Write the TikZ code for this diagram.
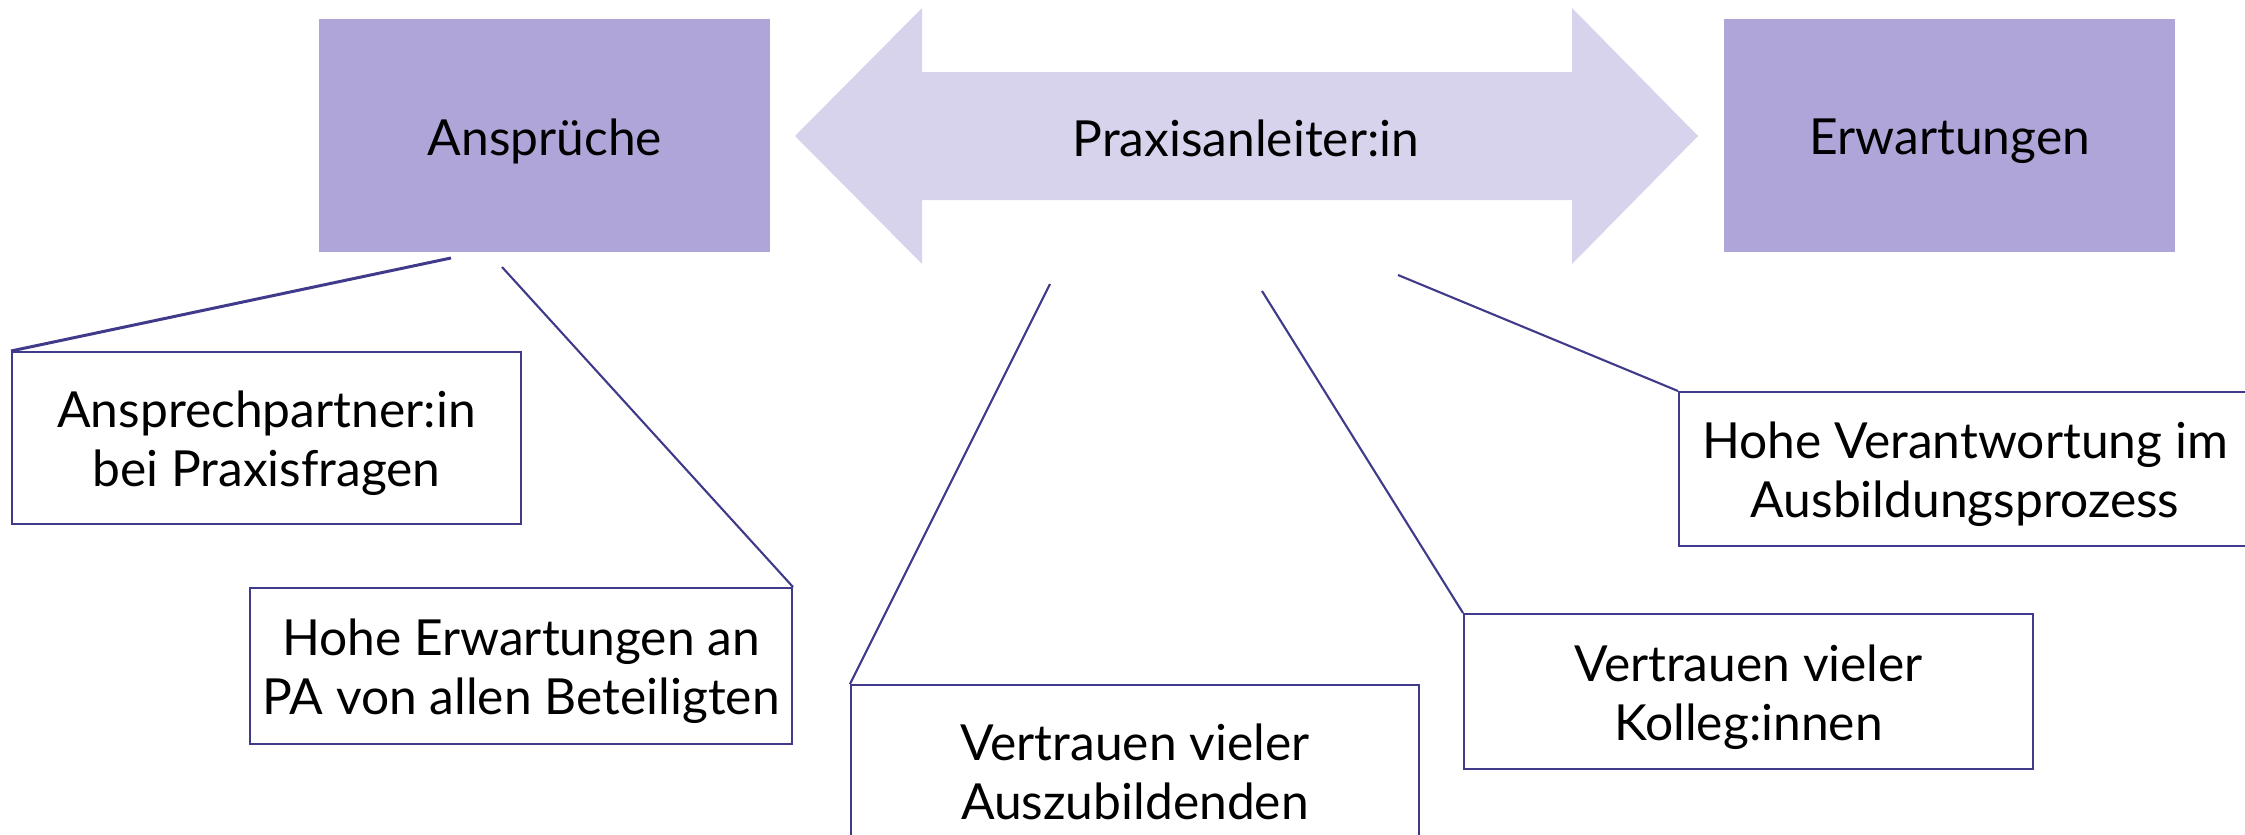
\documentclass[tikz,border=0pt]{standalone}
\usepackage{fontspec}
\setmainfont{Lato}
\definecolor{lineC}{HTML}{3F3A8A}
\definecolor{boxF}{HTML}{AFA5D8}
\definecolor{arrF}{HTML}{D7D3EC}
\begin{document}
\begin{tikzpicture}[x=0.02cm,y=-0.02cm,
  txt/.style={font=\fontsize{28.3}{33.5}\selectfont, align=center, text=black},
  lbl/.style={txt, yshift=-0.11cm},
  headbox/.style={fill=boxF, inner sep=0pt, minimum width=9.02cm, minimum height=4.66cm, anchor=north west,
    label={[lbl]center:#1}},
  itembox/.style={draw=lineC, line width=1.2pt, fill=white, inner sep=0pt, anchor=north west,
    label={[lbl]center:#1}},
  conn/.style={draw=lineC, line width=1.2pt}
]
\useasboundingbox (0,0) rectangle (2245,835);
\clip (0,0) rectangle (2245,835);

% double arrow
\fill[arrF] (795,136) -- (922,8) -- (922,72) -- (1572,72) -- (1572,8) -- (1698,136)
  -- (1572,264) -- (1572,200) -- (922,200) -- (922,264) -- cycle;
\node[txt] (pa) at (1246,138) {Praxisanleiter:in};

% heading boxes
\node[headbox={Ansprüche}] (ans) at (319,19) {};
\node[headbox={Erwartungen}] (erw) at (1724,19) {};

% item boxes
\node[itembox={Ansprechpartner:in\\bei Praxisfragen}, minimum width=10.18cm, minimum height=3.44cm] (b1) at (11,351) {};
\node[itembox={Hohe Erwartungen an\\PA von allen Beteiligten}, minimum width=10.84cm, minimum height=3.12cm] (b2) at (249,587) {};
\node[itembox={Vertrauen vieler\\Auszubildenden}, minimum width=11.36cm, minimum height=3.24cm] (b3) at (850,684) {};
\node[itembox={Vertrauen vieler\\Kolleg:innen}, minimum width=11.38cm, minimum height=3.10cm] (b4) at (1463,613) {};
\node[itembox={Hohe Verantwortung im\\Ausbildungsprozess}, minimum width=11.44cm, minimum height=3.08cm] (b5) at (1678,391) {};

% connector start points
\coordinate (s1) at (451,258);
\coordinate (s2) at (502,267);
\coordinate (s3) at (1050,284);
\coordinate (s4) at (1262,291);
\coordinate (s5) at (1398,275);

\draw[conn, line width=1.7pt] (s1) -- (b1.north west);
\draw[conn] (s2) -- (b2.north east);
\draw[conn] (s3) -- (b3.north west);
\draw[conn] (s4) -- (b4.north west);
\draw[conn] (s5) -- (b5.north west);
\end{tikzpicture}
\end{document}
